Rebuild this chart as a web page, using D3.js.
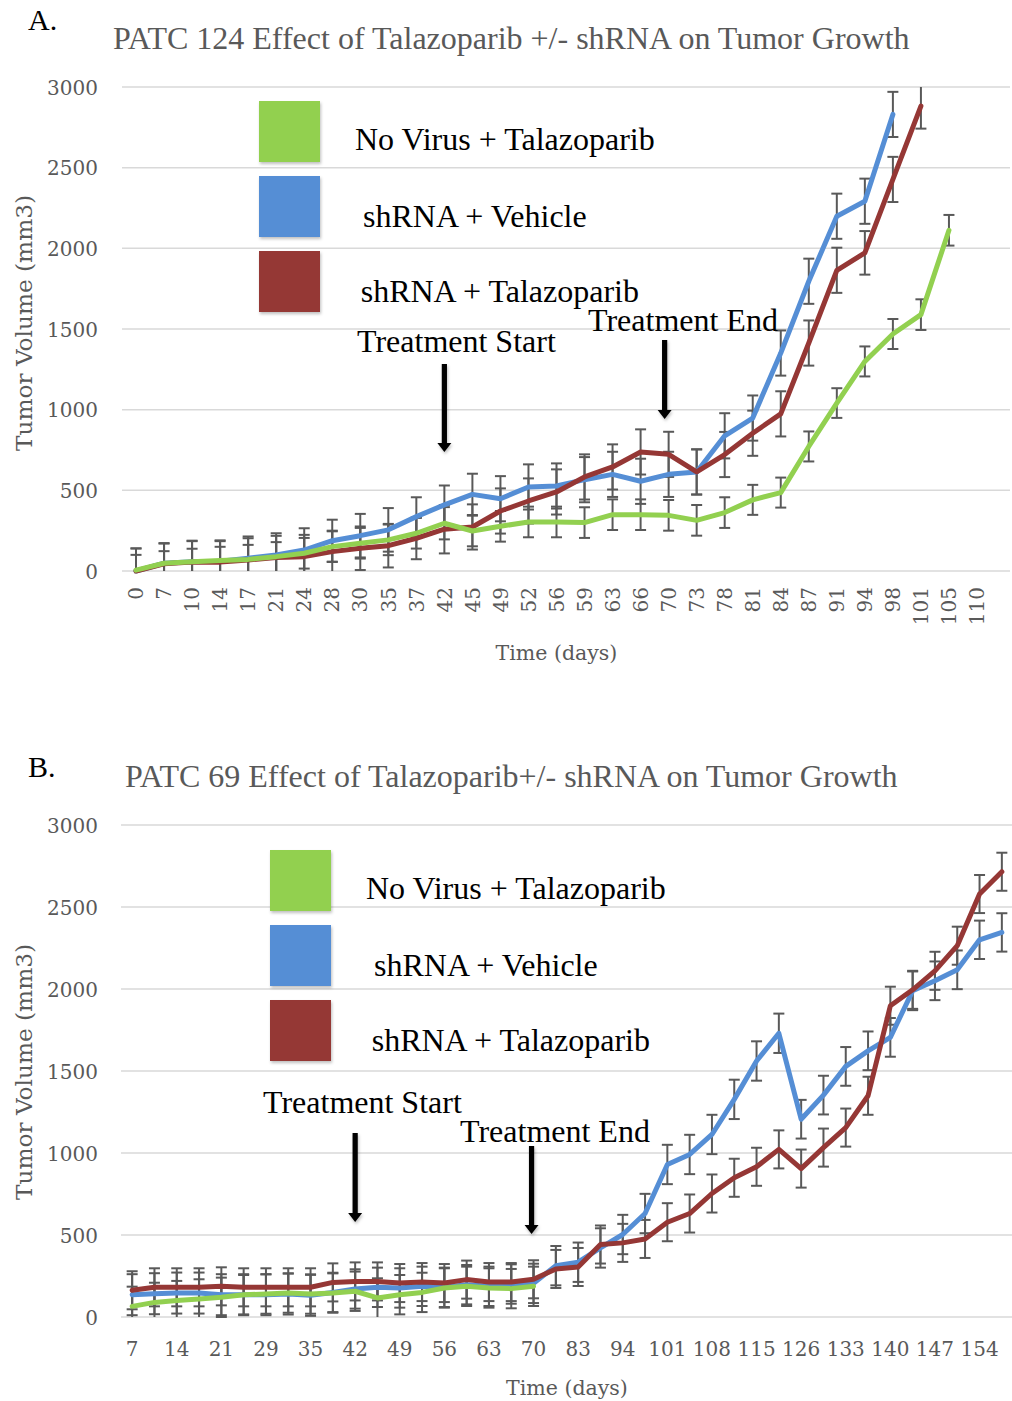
<!DOCTYPE html>
<html>
<head>
<meta charset="utf-8">
<script src="https://cdn.jsdelivr.net/npm/d3@7/dist/d3.min.js"></script>
<style>
  html, body { margin: 0; padding: 0; background: #fff; }
  svg { display: block; }
</style>
</head>
<body>
<svg id="fig" width="1012" height="1401"></svg>
<script>
// ---- Panel A: PATC 124 ----
const daysA = ["0","7","10","14","17","21","24","28","30","35","37","42","45","49","52","56","59","63","66","70","73","78","81","84","87","91","94","98","101","105","110"];
const noVirusTalaA = [5,48,58,65,72,89,110,151,172,193,234,296,248,277,304,304,300,349,349,345,314,362,441,486,772,1041,1299,1469,1589,2112,null];
const shVehicleA   = [0,48,58,60,79,99,130,188,219,255,337,410,475,448,521,527,566,599,556,599,614,838,948,1351,1796,2199,2292,2830,null,null,null];
const shTalaA      = [0,45,55,55,68,83,89,120,141,157,203,259,273,372,434,490,583,645,738,723,614,722,854,974,1413,1864,1972,2427,2882,null,null];
const noVirusTalaErrA = [95,75,80,85,90,90,95,95,95,95,95,100,95,95,95,95,95,95,95,95,95,95,93,93,93,92,93,93,95,95,null];
const shVehicleErrA   = [140,125,130,130,135,135,135,130,135,135,120,120,128,140,140,140,140,140,140,140,140,140,140,140,140,140,140,140,null,null,null];
const shTalaErrA      = [140,125,130,130,135,135,135,130,135,135,130,150,140,140,140,140,140,140,140,140,140,140,140,140,140,140,135,140,140,null,null];

// ---- Panel B: PATC 69 ----
const daysB = ["7","10","14","17","21","24","29","31","35","38","42","45","49","52","56","59","63","66","70","77","83","87","94","98","101","105","108","112","115","119","126","129","133","136","140","143","147","150","154","157"];
const tickDaysB = ["7","14","21","29","35","42","49","56","63","70","83","94","101","108","115","126","133","140","147","154"];
const noVirusTalaB = [65,89,100,110,120,136,140,146,140,146,157,116,136,150,177,187,177,173,187,null,null,null,null,null,null,null,null,null,null,null,null,null,null,null,null,null,null,null,null,null];
const shVehicleB   = [136,142,146,146,136,136,136,140,132,150,171,181,177,187,181,197,187,201,205,313,334,421,503,631,930,991,1113,1327,1561,1730,1206,1353,1528,1623,1705,1989,2050,2117,2300,2345];
const shTalaB      = [163,181,181,181,187,181,181,181,181,211,217,217,207,213,207,228,213,213,230,293,305,442,452,476,578,631,753,849,916,1022,905,1033,1155,1349,1898,1995,2111,2264,2579,2715];
const noVirusTalaErrB = [120,120,120,120,120,120,120,120,120,120,120,120,120,120,120,120,120,120,120,null,null,null,null,null,null,null,null,null,null,null,null,null,null,null,null,null,null,null,null,null];
const shVehicleErrB   = [125,125,125,125,125,125,125,125,125,120,120,120,120,120,120,120,120,120,120,120,120,120,120,120,120,120,120,120,120,120,118,118,118,118,118,118,118,118,117,117];
const shTalaErrB      = [116,116,116,116,116,116,116,116,116,116,116,116,116,116,116,116,116,116,116,116,116,116,116,116,116,116,116,116,116,116,116,116,116,116,116,116,116,116,116,116];

const yTicks = [0, 500, 1000, 1500, 2000, 2500, 3000];
const seriesNames = ["No Virus + Talazoparib", "shRNA + Vehicle", "shRNA + Talazoparib"];
const seriesColors = ["#92D050", "#558ED5", "#953735"];

const svg = d3.select("#fig");
const defs = svg.append("defs");
const shadow = defs.append("filter").attr("id", "soft").attr("x", "-20%").attr("y", "-20%").attr("width", "150%").attr("height", "150%");
shadow.append("feDropShadow").attr("dx", 1).attr("dy", 2).attr("stdDeviation", 1.5)
  .attr("flood-color", "#000").attr("flood-opacity", 0.25);

const serif = "'Liberation Serif', 'Times New Roman', serif";
const tickFont = "'DejaVu Serif', serif";
const gray = "#595959";
const bigSize = 32;

function drawPanel(p) {
  const g = svg.append("g");
  const x = d3.scaleBand().domain(p.days).range([p.left, p.right]);
  const cx = d => x(d) + x.bandwidth() / 2;
  const y = d3.scaleLinear().domain([0, 3000]).range([p.bottom, p.top]);

  // panel letter and title
  g.append("text").attr("x", 28).attr("y", p.letterY).text(p.letter)
    .attr("font-family", serif).attr("font-size", 30).attr("fill", "#000");
  g.append("text").attr("x", p.titleX).attr("y", p.titleY).text(p.title)
    .attr("font-family", serif).attr("font-size", bigSize).attr("fill", gray);

  // horizontal gridlines
  g.append("g").selectAll("line").data(yTicks).join("line")
    .attr("x1", p.left).attr("x2", p.gridRight)
    .attr("y1", d => y(d)).attr("y2", d => y(d))
    .attr("stroke", "#d9d9d9").attr("stroke-width", 1.5);

  // y axis labels
  const yAxis = d3.axisLeft(y).tickValues(yTicks).tickFormat(d3.format("d")).tickSize(0).tickPadding(0);
  const ya = g.append("g").attr("transform", `translate(98,0)`).call(yAxis);
  ya.select(".domain").remove();
  ya.selectAll("text").attr("font-family", tickFont).attr("font-size", 20).attr("fill", gray).attr("dy", "0.35em").attr("x", 0);

  // x axis labels
  const xAxis = d3.axisBottom(x).tickValues(p.tickDays).tickSize(0).tickPadding(0);
  const xa = g.append("g").attr("transform", `translate(0,${p.xLabelY})`).call(xAxis);
  xa.select(".domain").remove();
  xa.selectAll("text").attr("font-family", tickFont).attr("font-size", 20).attr("fill", gray);
  if (p.rotateTicks) {
    xa.selectAll("text").attr("transform", "rotate(-90)").attr("text-anchor", "end")
      .attr("x", 0).attr("y", 0).attr("dy", "0.36em");
  } else {
    xa.selectAll("text").attr("y", 0).attr("dy", 0);
  }

  // axis titles
  g.append("text").attr("transform", `translate(24,${p.yTitleY}) rotate(-90)`)
    .attr("text-anchor", "middle").attr("dy", "0.35em").text("Tumor Volume (mm3)")
    .attr("textLength", 256).attr("lengthAdjust", "spacingAndGlyphs")
    .attr("font-family", tickFont).attr("font-size", 21.5).attr("fill", gray);
  g.append("text").attr("x", (p.left + p.right) / 2).attr("y", p.xTitleY)
    .attr("text-anchor", "middle").text("Time (days)")
    .attr("font-family", tickFont).attr("font-size", 20.5).attr("fill", gray);

  // error bars
  const clamp = v => Math.max(0, Math.min(3000, v));
  const capW = 5.5;
  const eg = g.append("g").attr("stroke", "#595959").attr("stroke-width", 2).attr("fill", "none");
  p.series.forEach(s => {
    const pts = p.days.map((d, i) => ({ d, v: s.values[i], e: s.errs[i] }))
      .filter(o => o.v != null && o.e != null);
    pts.forEach(o => {
      const lo = o.v - o.e, hi = o.v + o.e;
      const X = cx(o.d);
      eg.append("line").attr("x1", X).attr("x2", X).attr("y1", y(clamp(lo))).attr("y2", y(clamp(hi)));
      if (lo >= 0) eg.append("line").attr("x1", X - capW).attr("x2", X + capW).attr("y1", y(lo)).attr("y2", y(lo));
      if (hi <= 3000) eg.append("line").attr("x1", X - capW).attr("x2", X + capW).attr("y1", y(hi)).attr("y2", y(hi));
    });
  });

  // series lines (blue, red, then green on top)
  const line = d3.line().defined(o => o.v != null).x(o => cx(o.d)).y(o => y(o.v));
  [1, 2, 0].forEach(k => {
    const s = p.series[k];
    const pts = p.days.map((d, i) => ({ d, v: s.values[i] }));
    g.append("path").datum(pts).attr("d", line)
      .attr("fill", "none").attr("stroke", seriesColors[k]).attr("stroke-width", 5)
      .attr("stroke-linejoin", "round").attr("stroke-linecap", "round");
  });

  // legend
  const lg = g.append("g").attr("transform", `translate(${p.legendX},${p.legendY})`);
  const textDx = [96, 104, 101.7];
  const textDy = [48.5, 50.7, 50.7];
  seriesNames.forEach((name, i) => {
    lg.append("rect").attr("x", 0).attr("y", i * 75).attr("width", 61).attr("height", 61)
      .attr("fill", seriesColors[i]).attr("filter", "url(#soft)");
    lg.append("text").attr("x", textDx[i]).attr("y", i * 75 + textDy[i]).text(name)
      .attr("font-family", serif).attr("font-size", bigSize).attr("fill", "#000");
  });

  // treatment arrows and labels
  p.arrows.forEach(a => {
    const X = cx(a.day) + a.shift;
    const headH = 9, headW = 7, shaft = 2.6;
    const path = `M${X - shaft},${a.top} L${X + shaft},${a.top} L${X + shaft},${a.tip - headH} L${X + headW},${a.tip - headH} L${X},${a.tip} L${X - headW},${a.tip - headH} L${X - shaft},${a.tip - headH} Z`;
    g.append("path").attr("d", path).attr("fill", "#000").attr("filter", "url(#soft)");
    g.append("text").attr("x", a.textX).attr("y", a.textY).text(a.label)
      .attr("font-family", serif).attr("font-size", bigSize).attr("fill", "#000");
  });
}

drawPanel({
  letter: "A.", letterY: 30, title: "PATC 124 Effect of Talazoparib +/- shRNA on Tumor Growth", titleX: 113, titleY: 49,
  days: daysA, tickDays: daysA, left: 122, right: 991, gridRight: 1010, top: 87, bottom: 571,
  xLabelY: 587, rotateTicks: true, yTitleY: 323, xTitleY: 660,
  legendX: 259, legendY: 101,
  series: [
    { values: noVirusTalaA, errs: noVirusTalaErrA },
    { values: shVehicleA, errs: shVehicleErrA },
    { values: shTalaA, errs: shTalaErrA }
  ],
  arrows: [
    { day: "42", shift: 0, top: 364, tip: 452, label: "Treatment Start", textX: 357, textY: 352 },
    { day: "70", shift: -4, top: 340, tip: 419, label: "Treatment End", textX: 588, textY: 331 }
  ]
});

drawPanel({
  letter: "B.", letterY: 777, title: "PATC 69 Effect of Talazoparib+/- shRNA on Tumor Growth", titleX: 125, titleY: 787,
  days: daysB, tickDays: tickDaysB, left: 121, right: 1013, gridRight: 1013, top: 825, bottom: 1317,
  xLabelY: 1356, rotateTicks: false, yTitleY: 1072, xTitleY: 1395,
  legendX: 270, legendY: 850,
  series: [
    { values: noVirusTalaB, errs: noVirusTalaErrB },
    { values: shVehicleB, errs: shVehicleErrB },
    { values: shTalaB, errs: shTalaErrB }
  ],
  arrows: [
    { day: "42", shift: 0, top: 1133, tip: 1222, label: "Treatment Start", textX: 263, textY: 1113 },
    { day: "70", shift: -2, top: 1146, tip: 1234, label: "Treatment End", textX: 460, textY: 1142 }
  ]
});
</script>
</body>
</html>
